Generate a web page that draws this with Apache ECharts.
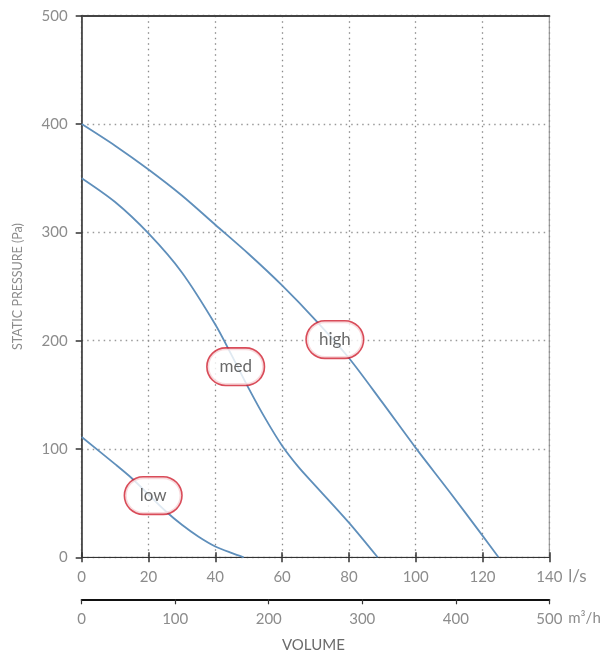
<!DOCTYPE html>
<html>
<head>
<meta charset="utf-8">
<script src="https://cdn.jsdelivr.net/npm/echarts@6/dist/echarts.min.js"></script>
<style>html,body{margin:0;padding:0;background:#fff}#c{width:610px;height:659px}</style>
</head>
<body>
<div id="c"></div>
<script>
// volume (l/s) and static pressure (Pa) for each fan speed
const highFlow = [0, 10, 20, 30, 40, 50, 60, 70, 80, 90, 100, 110, 120, 124.8];
const highPres = [400, 380, 358, 334, 307, 280, 251, 219, 184, 143, 101, 61, 20, 0];
const medFlow = [0, 10, 20, 30, 40, 45, 50, 55, 60, 65, 70, 80, 88.6];
const medPres = [350, 328, 299, 263, 215, 186, 156, 128, 103, 83, 66, 32, 0];
const lowFlow = [0, 10, 15, 20, 25, 30, 35, 40, 45, 48.5];
const lowPres = [111, 86, 73, 58, 43, 30, 19, 10, 3.8, 0];
// label anchor points (l/s, Pa)
const labelNames = ['high', 'med', 'low'];
const labelFlow = [75.8, 46.1, 21.4];
const labelPres = [201, 176, 57];
// axis ticks
const lsMax = 140, lsStep = 20;
const m3hMax = 500, m3hStep = 100;
const paMax = 500, paStep = 100;

const pairs = (xs, ys) => xs.map((x, i) => [x, ys[i]]);
const font = 'Lato, "Open Sans", sans-serif';
const lineColor = '#5f8fbb';
const lineSeries = (name, xs, ys) => ({
  name, type: 'line', xAxisIndex: 0, yAxisIndex: 0,
  data: pairs(xs, ys), smooth: 0.3, showSymbol: false, symbol: 'none',
  lineStyle: { color: lineColor, width: 1.8 }, z: 3, silent: true
});

const chart = echarts.init(document.getElementById('c'), null, { renderer: 'canvas' });
chart.setOption({
  animation: false,
  backgroundColor: '#fff',
  grid: { left: 81.7, right: 60.7, top: 15.7, bottom: 101.7, show: true, borderColor: '#8a8a8a', borderWidth: 1, containLabel: false },
  xAxis: [
    {
      type: 'value', position: 'bottom', min: 0, max: lsMax, interval: lsStep,
      axisLine: { show: true, lineStyle: { color: '#333', width: 1.2 } },
      axisTick: { show: true, length: 5, lineStyle: { color: '#333', width: 1.5 } },
      axisLabel: { color: '#8c8c8c', fontSize: 15, margin: 12, fontFamily: font },
      splitLine: { show: true, lineStyle: { color: '#8a8a8a', type: [1.5, 4], width: 1.3 } },
      name: 'l/s', nameLocation: 'end', nameGap: 10,
      nameTextStyle: { color: '#8c8c8c', fontSize: 17, fontFamily: font, verticalAlign: 'top', padding: [11, 0, 0, 0] }
    },
    {
      type: 'value', position: 'bottom', min: 0, max: lsMax, interval: lsStep,
      axisLine: { show: false }, axisLabel: { show: false }, splitLine: { show: false },
      axisTick: { show: true, inside: true, length: 5, lineStyle: { color: '#333', width: 1.5 } }
    },
    {
      type: 'value', position: 'bottom', offset: 42, min: 0, max: m3hMax, interval: m3hStep,
      axisLine: { show: true, lineStyle: { color: '#111', width: 2 } },
      axisTick: { show: true, length: 5, lineStyle: { color: '#333', width: 1.2 } },
      axisLabel: { color: '#8c8c8c', fontSize: 15, margin: 12, fontFamily: font },
      splitLine: { show: false },
      name: 'm³/h', nameLocation: 'end', nameGap: 10,
      nameTextStyle: { color: '#8c8c8c', fontSize: 15, fontFamily: font, verticalAlign: 'top', padding: [11, 0, 0, 0] }
    },
    {
      type: 'value', position: 'top', min: 0, max: lsMax, interval: lsStep,
      axisLine: { show: true, lineStyle: { color: '#444', width: 2 } },
      axisTick: { show: false }, axisLabel: { show: false }, splitLine: { show: false }
    }
  ],
  yAxis: [{
    type: 'value', min: 0, max: paMax, interval: paStep,
    axisLine: { show: true, lineStyle: { color: '#333', width: 1.5 } },
    axisTick: { show: true, length: 6, lineStyle: { color: '#333', width: 1.5 } },
    axisLabel: { color: '#8c8c8c', fontSize: 15, margin: 14, fontFamily: font },
    splitLine: { show: true, lineStyle: { color: '#9a9a9a', type: [1.5, 4], width: 1.3 } },
    name: 'STATIC PRESSURE (Pa)', nameLocation: 'middle', nameGap: 57,
    nameTextStyle: { color: '#8c8c8c', fontSize: 12.5, fontFamily: font }
  }],
  graphic: [{
    type: 'text', left: 282, top: 638,
    style: { text: 'VOLUME', fill: '#6b6b6b', fontSize: 15, fontFamily: font }
  }],
  series: [
    lineSeries('high', highFlow, highPres),
    lineSeries('med', medFlow, medPres),
    lineSeries('low', lowFlow, lowPres),
    {
      type: 'scatter', xAxisIndex: 0, yAxisIndex: 0, symbolSize: 0, z: 5, silent: true,
      data: labelNames.map((n, i) => ({ name: n, value: [labelFlow[i], labelPres[i]] })),
      label: {
        show: true, position: 'inside', formatter: '{b}',
        color: '#444', fontSize: 17, fontFamily: font,
        backgroundColor: '#fff', borderColor: '#d01f30', borderWidth: 1.6, borderRadius: 18,
        width: 30, height: 20, lineHeight: 20, align: 'center', padding: [8, 13]
      }
    }
  ]
});
</script>
</body>
</html>
